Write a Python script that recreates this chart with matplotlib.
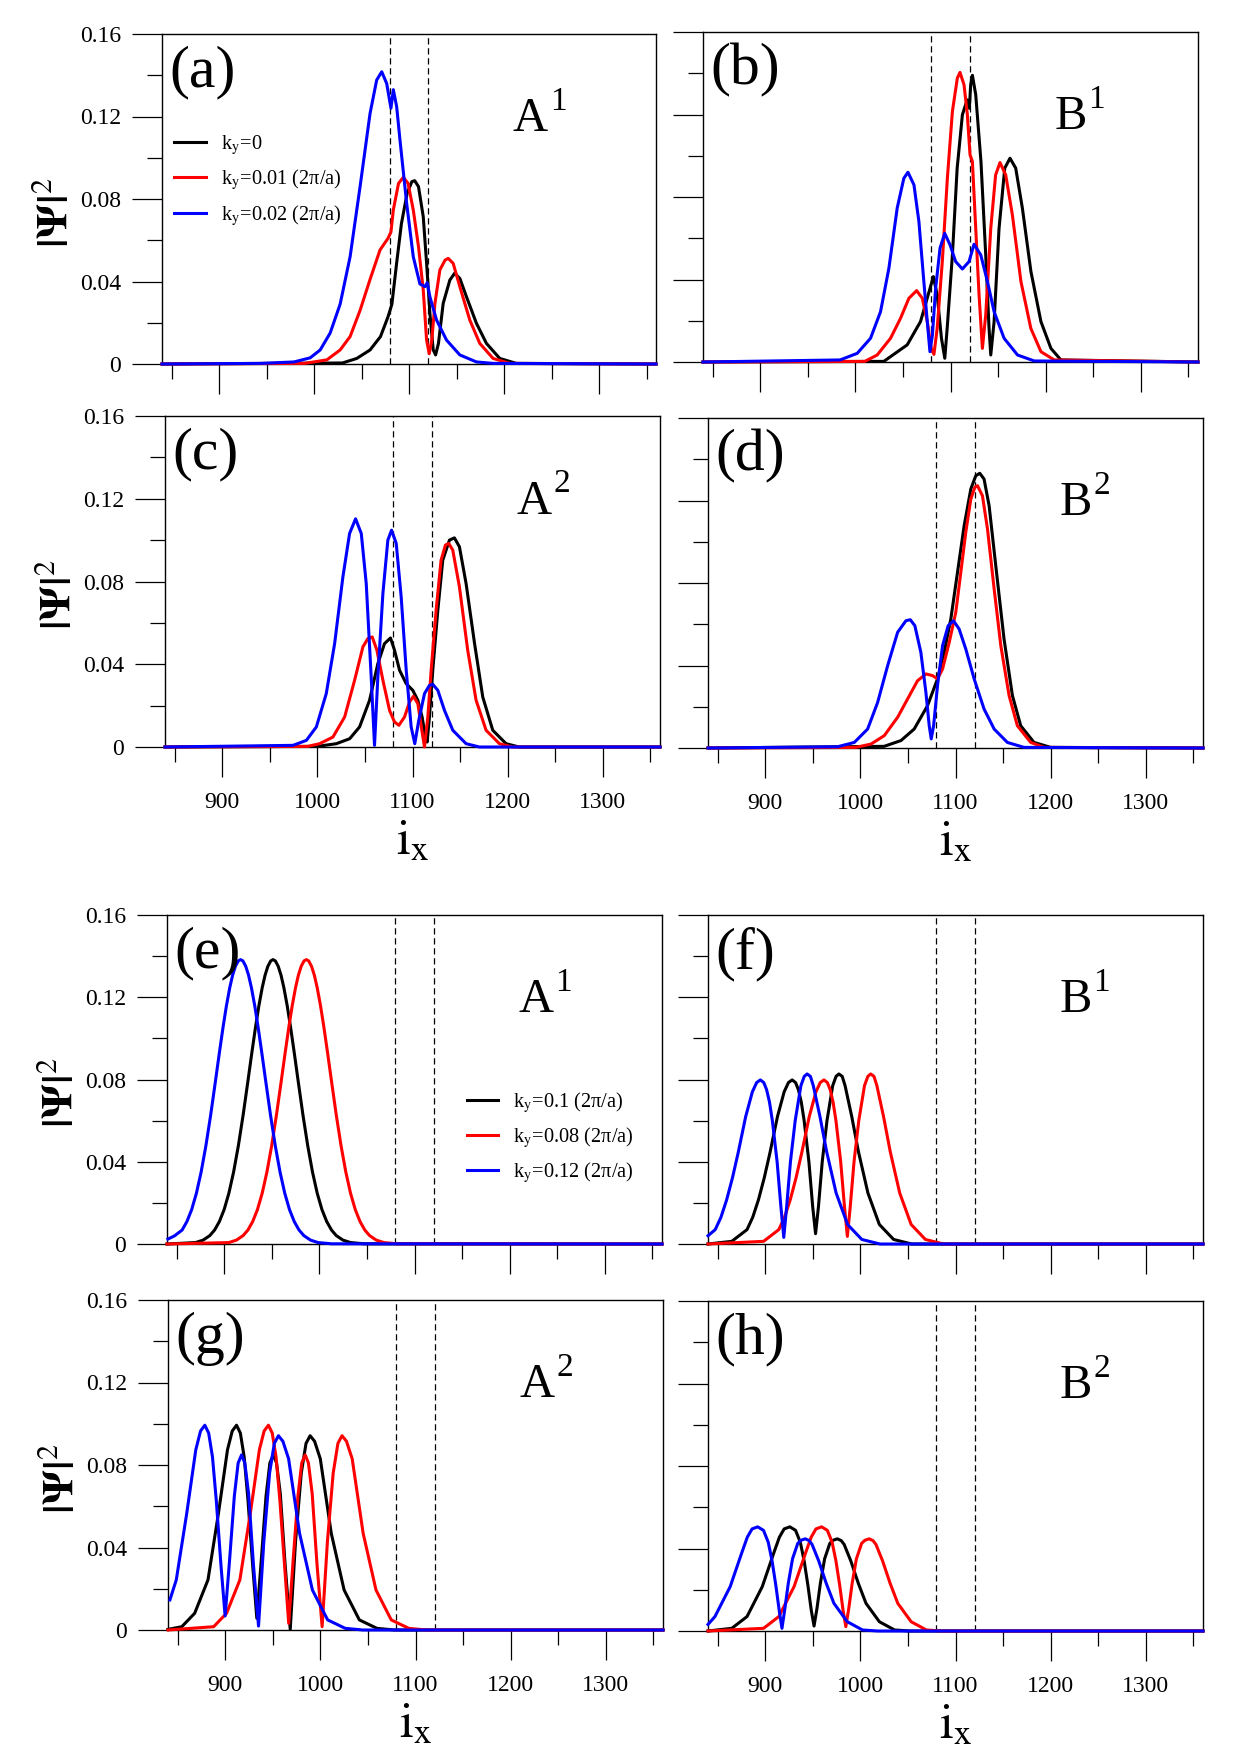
import matplotlib
matplotlib.use("Agg")
import matplotlib.pyplot as plt

# ---------------------------------------------------------------------------
# Data: |Psi|^2 versus i_x for each panel and k_y value.
# ---------------------------------------------------------------------------

# (a) A^1, k_y = 0 / 0.01 / 0.02
a_black_x = [840, 1030, 1045, 1059, 1070, 1078, 1082, 1087, 1092, 1098, 1103, 1106, 1110, 1115, 1118.5,
             1122, 1125.5, 1128, 1131, 1136, 1143, 1148, 1153.5, 1160.5, 1171, 1181.5, 1195.5, 1213, 1360]
a_black_y = [0, 0.0005, 0.0027, 0.0068, 0.0133, 0.023, 0.029, 0.049, 0.068, 0.0827, 0.0884, 0.0889, 0.086,
             0.0714, 0.049, 0.0246, 0.0068, 0.0044, 0.010, 0.0294, 0.0407, 0.044, 0.0415, 0.0326, 0.0197,
             0.010, 0.0027, 0.0003, 0]
a_red_x = [840, 990, 1013.5, 1027.5, 1038, 1048.5, 1059, 1069.5, 1078, 1081, 1083.5, 1089, 1094, 1099,
           1104.5, 1110, 1115, 1118.5, 1121.3, 1124, 1127.3, 1132.5, 1138, 1141.3, 1146.5, 1153.5, 1164,
           1174.5, 1188.5, 1206, 1360]
a_red_y = [0, 0.0003, 0.002, 0.0068, 0.0133, 0.026, 0.041, 0.0553, 0.061, 0.064, 0.0747, 0.0876, 0.0905,
           0.0876, 0.0747, 0.0569, 0.0359, 0.0116, 0.005, 0.0116, 0.0294, 0.0456, 0.0504, 0.0512, 0.0488,
           0.0375, 0.0213, 0.010, 0.0027, 0.0003, 0]
a_blue_x = [840, 944, 979, 996, 1006.5, 1017, 1027.5, 1038, 1048.5, 1059, 1066, 1071.3, 1076.5, 1081,
            1083.5, 1087, 1090.5, 1097.5, 1104.5, 1111.5, 1116.8, 1119.2, 1122, 1129, 1139.5, 1153.5,
            1171, 1188.5, 1360]
a_blue_y = [0, 0.0003, 0.001, 0.003, 0.0068, 0.015, 0.029, 0.052, 0.086, 0.1215, 0.1377, 0.1417, 0.136,
            0.124, 0.133, 0.1248, 0.1086, 0.078, 0.052, 0.0388, 0.0375, 0.0394, 0.0326, 0.0213, 0.0116,
            0.0044, 0.001, 0.0003, 0]

# (b) B^1
b_black_x = [840, 1030, 1037, 1054.5, 1068.5, 1077.5, 1082, 1086, 1090.5, 1094, 1096.5, 1102, 1107,
             1112.5, 1117.5, 1119.8, 1121.2, 1123, 1126.5, 1132, 1137, 1140.5, 1142.3, 1145.8, 1151, 1157,
             1162.5, 1168.5, 1175.5, 1184.5, 1195, 1205.5, 1216, 1360]
b_black_y = [0, 0.0003, 0.0026, 0.0083, 0.0196, 0.0341, 0.0414, 0.0325, 0.0115, 0.0018, 0.0163, 0.0519,
             0.094, 0.1199, 0.1271, 0.123, 0.1344, 0.139, 0.1296, 0.0972, 0.0519, 0.0163, 0.0034, 0.0196,
             0.0648, 0.094, 0.0988, 0.094, 0.0746, 0.0438, 0.0196, 0.0066, 0.001, 0]
b_red_x = [840, 1010, 1023, 1037, 1047.5, 1056.3, 1064.4, 1070.4, 1075.6, 1079.8, 1082.6, 1086, 1091.4,
           1096.7, 1102, 1107.2, 1110, 1114.2, 1117.7, 1120.5, 1123, 1126.5, 1130, 1133.5, 1137, 1142.3,
           1147.4, 1152, 1158, 1165, 1174, 1184.4, 1195, 1209, 1360]
b_red_y = [0, 0.0003, 0.0034, 0.0115, 0.0212, 0.0309, 0.0346, 0.0309, 0.0196, 0.0066, 0.0037, 0.0163,
           0.0487, 0.0891, 0.1215, 0.1377, 0.1404, 0.1344, 0.1199, 0.1005, 0.0972, 0.0648, 0.0325, 0.0066,
           0.0228, 0.0648, 0.0907, 0.0967, 0.0907, 0.0713, 0.039, 0.0163, 0.005, 0.001, 0]
b_blue_x = [840, 984, 1002, 1016, 1026.5, 1035.3, 1044, 1051, 1055.3, 1061.6, 1066.8, 1072, 1075.6,
            1078.4, 1081, 1084.4, 1089, 1093.9, 1099.5, 1105.4, 1112.5, 1119.5, 1124.7, 1131.8, 1138.8,
            1145.8, 1156.3, 1170.4, 1188, 1360]
b_blue_y = [0, 0.001, 0.0042, 0.0115, 0.0244, 0.0455, 0.0746, 0.0891, 0.092, 0.0859, 0.0681, 0.039,
            0.0196, 0.005, 0.0131, 0.0358, 0.0552, 0.0624, 0.0568, 0.0487, 0.0451, 0.0487, 0.0571, 0.0519,
            0.039, 0.0244, 0.0115, 0.0034, 0.0005, 0]

# (c) A^2
c_black_x = [840, 1000, 1020, 1034, 1044.4, 1054.9, 1063.6, 1070.6, 1076.9, 1081.1, 1086.4, 1093.4,
             1100.3, 1105.6, 1110.1, 1113.6, 1115.4, 1117.8, 1121.3, 1126.6, 1131.8, 1138.8, 1144, 1149.3,
             1156.3, 1165.2, 1173.8, 1184.3, 1198.3, 1212, 1360]
c_black_y = [0, 0.0003, 0.0016, 0.004, 0.0097, 0.0226, 0.0403, 0.05, 0.0527, 0.0468, 0.0371, 0.0306,
             0.0274, 0.0226, 0.0145, 0.0048, 0.0024, 0.0145, 0.0371, 0.0661, 0.0903, 0.1, 0.1011, 0.0968,
             0.079, 0.05, 0.0242, 0.0081, 0.0016, 0, 0]
c_red_x = [840, 990, 1002.4, 1016.4, 1028.7, 1039.2, 1047.9, 1053.1, 1057.7, 1062.6, 1068.9, 1075.9,
           1081.1, 1085.7, 1091.6, 1096.9, 1101, 1105.6, 1109.8, 1112.6, 1116.1, 1119.6, 1124.8, 1130,
           1134.6, 1138.1, 1142.3, 1149.3, 1158, 1166.8, 1177.3, 1191.3, 1205, 1360]
c_red_y = [0, 0.0003, 0.0016, 0.0048, 0.0145, 0.0323, 0.0484, 0.0524, 0.0532, 0.0468, 0.0323, 0.0177,
           0.0121, 0.0105, 0.0145, 0.0218, 0.0245, 0.021, 0.0081, 0, 0.0145, 0.0371, 0.0661, 0.0903,
           0.0976, 0.0984, 0.0952, 0.0774, 0.0468, 0.0226, 0.0081, 0.0016, 0, 0]
c_blue_x = [840, 974.5, 988.5, 999, 1009.4, 1018.2, 1026.9, 1033.9, 1040.2, 1046.2, 1051.4, 1056.6,
            1060.1, 1063.6, 1068.9, 1074.1, 1078, 1082.9, 1088.1, 1093.4, 1098.6, 1102.4, 1106.6, 1112.6,
            1117.8, 1121.3, 1126.6, 1133.6, 1142.3, 1156.3, 1170.3, 1360]
c_blue_y = [0, 0.0008, 0.0032, 0.0097, 0.0258, 0.05, 0.0823, 0.1032, 0.1103, 0.1032, 0.079, 0.0339,
            0.0008, 0.0339, 0.0742, 0.1, 0.1048, 0.0984, 0.0726, 0.0371, 0.0097, 0.0016, 0.0129, 0.0258,
            0.0298, 0.0303, 0.0274, 0.0177, 0.0081, 0.0016, 0, 0]

# (d) B^2
d_black_x = [840, 1025, 1042.7, 1056.6, 1070.6, 1081.1, 1088.1, 1095.1, 1102.1, 1109.1, 1116.1, 1121.3,
             1125.5, 1130, 1135.3, 1142.3, 1151, 1159.8, 1168.5, 1182.5, 1200, 1360]
d_black_y = [0, 0.0008, 0.0036, 0.0092, 0.0205, 0.0335, 0.0464, 0.0626, 0.0852, 0.1078, 0.1256, 0.132,
             0.1332, 0.1304, 0.1175, 0.0884, 0.0528, 0.0254, 0.0108, 0.0027, 0.0003, 0]
d_red_x = [840, 995, 1011.2, 1025.2, 1039.2, 1049.7, 1060.1, 1068.9, 1075.9, 1081.1, 1086.4, 1093.4,
           1100.3, 1105.6, 1110.8, 1116.1, 1120.3, 1123.1, 1128.3, 1133.6, 1140.6, 1147.6, 1156.3, 1165,
           1179, 1193, 1360]
d_red_y = [0, 0.0003, 0.0019, 0.006, 0.0149, 0.0238, 0.0326, 0.0359, 0.0351, 0.0335, 0.0383, 0.0512,
           0.0658, 0.0852, 0.1046, 0.1207, 0.1264, 0.1272, 0.1223, 0.1062, 0.0771, 0.0496, 0.0254, 0.0108,
           0.0027, 0.0003, 0]
d_blue_x = [840, 976, 993.7, 1007.7, 1018.2, 1028.7, 1039.2, 1047.9, 1052.5, 1057.3, 1063.6, 1068.9,
            1072.4, 1074.5, 1077, 1081.1, 1086.4, 1092.3, 1097.9, 1103.8, 1110.8, 1119.6, 1130, 1140.6,
            1154.5, 1172, 1360]
d_blue_y = [0, 0.0006, 0.0027, 0.0092, 0.0221, 0.0399, 0.0561, 0.0617, 0.0622, 0.0593, 0.0464, 0.027,
            0.0108, 0.0044, 0.0108, 0.0302, 0.0496, 0.0593, 0.0617, 0.0577, 0.048, 0.0335, 0.0189, 0.0092,
            0.0027, 0.0003, 0]

# (e) A^1, k_y = 0.1 / 0.08 / 0.12
e_black_x = [840, 870, 878, 885, 890, 895, 900, 905, 910, 915, 920, 925, 929, 933, 936.5, 940, 943, 946,
             949, 951.4, 953.8, 956.8, 959.8, 962.8, 966.3, 969.8, 973.8, 977.8, 982.8, 987.8, 992.8,
             997.8, 1002.8, 1007.8, 1012.8, 1017.8, 1024.8, 1032.8, 1047, 1360]
e_black_y = [0, 0.0007, 0.0019, 0.0041, 0.0068, 0.0109, 0.0167, 0.0247, 0.0351, 0.0479, 0.0628, 0.0792,
             0.0926, 0.1055, 0.1158, 0.1246, 0.1307, 0.1351, 0.1377, 0.1383, 0.1377, 0.1351, 0.1307,
             0.1246, 0.1158, 0.1055, 0.0926, 0.0792, 0.0628, 0.0479, 0.0351, 0.0247, 0.0167, 0.0109,
             0.0068, 0.0041, 0.0019, 0.0007, 0.0001, 0]
e_red_x = [840, 905, 913, 920, 925, 930, 935, 940, 945, 950, 955, 960, 964, 968, 971.5, 975, 978, 981,
           984, 986.4, 988.8, 991.8, 994.8, 997.8, 1001.3, 1004.8, 1008.8, 1012.8, 1017.8, 1022.8, 1027.8,
           1032.8, 1037.8, 1042.8, 1047.8, 1052.8, 1059.8, 1067.8, 1082, 1360]
e_red_y = [0, 0.0007, 0.0019, 0.0041, 0.0068, 0.0109, 0.0167, 0.0247, 0.0351, 0.0479, 0.0628, 0.0792,
           0.0926, 0.1055, 0.1158, 0.1246, 0.1307, 0.1351, 0.1377, 0.1383, 0.1377, 0.1351, 0.1307,
           0.1246, 0.1158, 0.1055, 0.0926, 0.0792, 0.0628, 0.0479, 0.0351, 0.0247, 0.0167, 0.0109,
           0.0068, 0.0041, 0.0019, 0.0007, 0.0001, 0]
e_blue_x = [841, 848, 855.9, 860.9, 865.9, 870.9, 875.9, 880.9, 885.9, 890.9, 894.9, 898.9, 902.4,
            905.9, 908.9, 911.9, 914.9, 917.3, 919.7, 922.7, 925.7, 928.7, 932.2, 935.7, 939.7, 943.7,
            948.7, 953.7, 958.7, 963.7, 968.7, 973.7, 978.7, 983.7, 990.7, 998.7, 1012.9, 1360]
e_blue_y = [0.0024, 0.004, 0.0068, 0.0109, 0.0167, 0.0247, 0.0351, 0.0479, 0.0628, 0.0792, 0.0926,
            0.1055, 0.1158, 0.1246, 0.1307, 0.1351, 0.1377, 0.1383, 0.1377, 0.1351, 0.1307, 0.1246,
            0.1158, 0.1055, 0.0926, 0.0792, 0.0628, 0.0479, 0.0351, 0.0247, 0.0167, 0.0109, 0.0068,
            0.0041, 0.0019, 0.0007, 0.0001, 0]

# (f) B^1
f_black_x = [840, 865, 881, 887, 893, 899, 905, 913, 920, 924.5, 928.4, 932, 935, 938, 941, 946, 950,
             953, 956, 960, 965, 971, 974.5, 977.5, 981, 984, 991, 998, 1008, 1020, 1035, 1054, 1360]
f_black_y = [0, 0.0013, 0.007, 0.013, 0.0215, 0.032, 0.0442, 0.062, 0.074, 0.0785, 0.0798, 0.0785, 0.075,
             0.069, 0.060, 0.040, 0.018, 0.005, 0.018, 0.040, 0.060, 0.077, 0.0815, 0.0827, 0.0815, 0.077,
             0.062, 0.045, 0.0248, 0.0095, 0.0022, 0, 0]
f_red_x = [840, 898.4, 914.4, 920.4, 926.4, 932.4, 938.4, 946.4, 953.4, 957.9, 961.8, 965.4, 968.4,
           971.4, 974.4, 979.4, 983.4, 986.4, 989.4, 993.4, 998.4, 1004.4, 1007.9, 1010.9, 1014.4, 1017.4,
           1024.4, 1031.4, 1041.4, 1053.4, 1068.4, 1087.4, 1360]
f_red_y = [0, 0.0013, 0.007, 0.013, 0.0215, 0.032, 0.0442, 0.062, 0.074, 0.0785, 0.0798, 0.0785, 0.075,
           0.069, 0.060, 0.040, 0.018, 0.0037, 0.018, 0.040, 0.060, 0.077, 0.0815, 0.0827, 0.0815, 0.077,
           0.062, 0.045, 0.0248, 0.0095, 0.0022, 0, 0]
f_blue_x = [840, 847.6, 853.6, 859.6, 865.6, 871.6, 879.6, 886.6, 891.1, 895, 898.6, 901.6, 904.6, 907.6,
            912.6, 916.6, 919.6, 922.6, 926.6, 931.6, 937.6, 941.1, 944.1, 947.6, 950.6, 957.6, 964.6,
            974.6, 986.6, 1001.6, 1020.6, 1360]
f_blue_y = [0.004, 0.007, 0.013, 0.0215, 0.032, 0.0442, 0.062, 0.074, 0.0785, 0.0798, 0.0785, 0.075,
            0.069, 0.060, 0.040, 0.018, 0.0032, 0.018, 0.040, 0.060, 0.077, 0.0815, 0.0827, 0.0815, 0.077,
            0.062, 0.045, 0.0248, 0.0095, 0.0022, 0, 0]

# (g) A^2
g_black_x = [840, 854.5, 868, 882, 893, 902.5, 907.5, 912, 916, 920, 924, 929, 933.3, 938, 943, 947,
             950.6, 954, 958, 963, 968.4, 974, 980, 985, 989.3, 994, 1000, 1011.5, 1025, 1041, 1059.5,
             1078, 1360]
g_black_y = [0.0003, 0.0016, 0.0081, 0.0243, 0.0566, 0.0874, 0.0965, 0.0993, 0.0955, 0.084, 0.063, 0.031,
             0.0057, 0.034, 0.065, 0.081, 0.0849, 0.081, 0.066, 0.032, 0.0003, 0.043, 0.076, 0.0905,
             0.0942, 0.0915, 0.083, 0.0469, 0.0194, 0.0049, 0.0008, 0, 0]
g_red_x = [840, 888, 901.5, 915.5, 926.5, 936, 941, 945.5, 949.5, 953.5, 957.5, 962.5, 966.8, 971.5,
           976.5, 980.5, 984.1, 987.5, 991.5, 996.5, 1001.9, 1007.5, 1013.5, 1018.5, 1022.8, 1027.5,
           1033.5, 1045, 1058.5, 1074.5, 1093, 1111.5, 1360]
g_red_y = [0, 0.0016, 0.0081, 0.0243, 0.0566, 0.0874, 0.0965, 0.0993, 0.0955, 0.084, 0.063, 0.031,
           0.0032, 0.034, 0.065, 0.081, 0.0849, 0.081, 0.066, 0.032, 0.0016, 0.043, 0.076, 0.0905, 0.0942,
           0.0915, 0.083, 0.0469, 0.0194, 0.0049, 0.0008, 0, 0]
g_blue_x = [842, 848.7, 859.7, 869.2, 874.2, 878.7, 882.7, 886.7, 890.7, 895.7, 900, 904.7, 909.7, 913.7,
            917.3, 920.7, 924.7, 929.7, 935.1, 940.7, 946.7, 951.7, 956, 960.7, 966.7, 978.2, 991.7,
            1007.7, 1026.2, 1044.7, 1360]
g_blue_y = [0.0146, 0.0243, 0.0566, 0.0874, 0.0965, 0.0993, 0.0955, 0.084, 0.063, 0.031, 0.0068, 0.034,
            0.065, 0.081, 0.0849, 0.081, 0.066, 0.032, 0.0019, 0.043, 0.076, 0.0905, 0.0942, 0.0915, 0.083,
            0.0469, 0.0194, 0.0049, 0.0008, 0, 0]

# (h) B^2
h_black_x = [840, 865, 881, 897, 909, 915, 920, 926, 932, 937, 941, 945, 948.5, 951.4, 954.5, 958,
             962.5, 968, 971.5, 975.9, 980, 983, 990, 998, 1006, 1020, 1036, 1052, 1360]
h_black_y = [0, 0.0013, 0.007, 0.0215, 0.0377, 0.0455, 0.0495, 0.0505, 0.0488, 0.043, 0.034, 0.022,
             0.010, 0.0024, 0.011, 0.023, 0.035, 0.0425, 0.044, 0.0447, 0.0438, 0.042, 0.034, 0.023,
             0.0134, 0.0045, 0.0005, 0, 0]
h_red_x = [840, 898.4, 914.4, 930.4, 942.4, 948.4, 953.4, 959.4, 965.4, 970.4, 974.4, 978.4, 981.9,
           984.8, 987.9, 991.4, 995.9, 1001.4, 1004.9, 1009.3, 1013.4, 1016.4, 1023.4, 1031.4, 1039.4,
           1053.4, 1069.4, 1085.4, 1360]
h_red_y = [0, 0.0013, 0.007, 0.0215, 0.0377, 0.0455, 0.0495, 0.0505, 0.0488, 0.043, 0.034, 0.022, 0.010,
           0.0021, 0.011, 0.023, 0.035, 0.0425, 0.044, 0.0447, 0.0438, 0.042, 0.034, 0.023, 0.0134,
           0.0045, 0.0005, 0, 0]
h_blue_x = [840, 847.3, 863.3, 875.3, 881.3, 886.3, 892.2, 898.3, 903.3, 907.3, 911.3, 914.8, 917.7,
            920.8, 924.3, 928.8, 934.3, 937.8, 942.2, 946.3, 949.3, 956.3, 964.3, 972.3, 986.3, 1002.3,
            1018.3, 1360]
h_blue_y = [0.0032, 0.007, 0.0215, 0.0377, 0.0455, 0.0495, 0.0505, 0.0488, 0.043, 0.034, 0.022, 0.010,
            0.0013, 0.011, 0.023, 0.035, 0.0425, 0.044, 0.0447, 0.0438, 0.042, 0.034, 0.023, 0.0134,
            0.0045, 0.0005, 0, 0]

# interface positions (dashed lines)
dashed_x = [1080, 1120]

legend_top = ["k$_\\mathrm{y}$=0", "k$_\\mathrm{y}$=0.01 (2π/a)", "k$_\\mathrm{y}$=0.02 (2π/a)"]
legend_bottom = ["k$_\\mathrm{y}$=0.1 (2π/a)", "k$_\\mathrm{y}$=0.08 (2π/a)", "k$_\\mathrm{y}$=0.12 (2π/a)"]

colors = ["black", "red", "blue"]
x_major = [900, 1000, 1100, 1200, 1300]
x_minor = [850, 950, 1050, 1150, 1250, 1350]
y_major = [0, 0.04, 0.08, 0.12, 0.16]
y_minor = [0.02, 0.06, 0.10, 0.14]
y_labels = ["0", "0.04", "0.08", "0.12", "0.16"]

plt.rcParams["font.family"] = ["Liberation Serif", "DejaVu Serif"]
plt.rcParams["mathtext.fontset"] = "stix"

W, H = 1241.0, 1754.0
fig = plt.figure(figsize=(12.41, 17.54), dpi=100)


def panel(box, curves, letter, site, sup, bottom_row, left_col, legend=None, legend_pos=None):
    # box is given in pixels: left, top, right, bottom
    l, t, r, b = box
    ax = fig.add_axes([l / W, 1 - b / H, (r - l) / W, (b - t) / H])

    for xv in dashed_x:
        ax.axvline(xv, color="black", lw=0.9, ls=(0, (5, 3)), zorder=1)

    handles = []
    for (xs, ys), c in zip(curves, colors):
        line, = ax.plot(xs, ys, color=c, lw=2.2, zorder=3, clip_on=False, solid_joinstyle="round")
        handles.append(line)

    ax.set_xlim(840, 1360)
    ax.set_ylim(0, 0.16)
    ax.set_xticks(x_major)
    ax.set_xticks(x_minor, minor=True)
    ax.set_yticks(y_major)
    ax.set_yticks(y_minor, minor=True)
    ax.tick_params(which="major", direction="out", length=21.5, width=0.9, labelsize=17)
    ax.tick_params(which="minor", direction="out", length=10.5, width=0.9)
    ax.tick_params(axis="x", pad=11)
    ax.tick_params(axis="y", pad=8)
    for s in ax.spines.values():
        s.set_linewidth(1.0)

    if left_col:
        ax.set_yticklabels(y_labels)
        ax.text(-0.214, 0.46, r"$\mathbf{|\Psi|}^{\mathrm{2}}$", transform=ax.transAxes,
                rotation=90, ha="center", va="center", fontsize=31)
    else:
        ax.set_yticklabels([])
    if bottom_row:
        ax.set_xticklabels([str(v) for v in x_major])
        ax.text(0.5, -0.325, r"$\mathrm{i}_\mathrm{x}$", transform=ax.transAxes,
                ha="center", va="baseline", fontsize=36)
    else:
        ax.set_xticklabels([])

    ax.text(0.014, 0.965, letter, transform=ax.transAxes, ha="left", va="top", fontsize=43)
    ax.text(0.71, 0.705, site, transform=ax.transAxes, ha="left", va="baseline", fontsize=35)
    sup_x = 0.785 if site == "A" else 0.779
    ax.text(sup_x, 0.77, sup, transform=ax.transAxes, ha="left", va="baseline", fontsize=24)

    if legend is not None:
        ax.legend(handles, legend, loc="upper left", bbox_to_anchor=legend_pos, frameon=False,
                  borderpad=0, borderaxespad=0, fontsize=14.7, handlelength=1.54,
                  handletextpad=0.73, labelspacing=0.51)
    return ax


panel((162, 34, 656, 364), [(a_black_x, a_black_y), (a_red_x, a_red_y), (a_blue_x, a_blue_y)],
      "(a)", "A", "1", False, True, legend_top, (0.025, 0.70))
panel((703, 32, 1198, 362), [(b_black_x, b_black_y), (b_red_x, b_red_y), (b_blue_x, b_blue_y)],
      "(b)", "B", "1", False, False)
panel((165, 416, 660, 747), [(c_black_x, c_black_y), (c_red_x, c_red_y), (c_blue_x, c_blue_y)],
      "(c)", "A", "2", True, True)
panel((708, 418, 1203, 748), [(d_black_x, d_black_y), (d_red_x, d_red_y), (d_blue_x, d_blue_y)],
      "(d)", "B", "2", True, False)
panel((167, 915, 662, 1244), [(e_black_x, e_black_y), (e_red_x, e_red_y), (e_blue_x, e_blue_y)],
      "(e)", "A", "1", False, True, legend_bottom, (0.606, 0.469))
panel((708, 915, 1203, 1244), [(f_black_x, f_black_y), (f_red_x, f_red_y), (f_blue_x, f_blue_y)],
      "(f)", "B", "1", False, False)
panel((168, 1300, 663, 1630), [(g_black_x, g_black_y), (g_red_x, g_red_y), (g_blue_x, g_blue_y)],
      "(g)", "A", "2", True, True)
panel((708, 1301, 1203, 1631), [(h_black_x, h_black_y), (h_red_x, h_red_y), (h_blue_x, h_blue_y)],
      "(h)", "B", "2", True, False)

fig.savefig("out.png", dpi=100)
